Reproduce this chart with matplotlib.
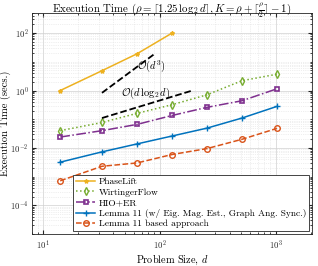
import numpy as np
import matplotlib.pyplot as plt
import matplotlib.ticker as mticker

plt.rcParams['font.family'] = 'serif'
plt.rcParams['font.serif'] = ['cmr10', 'DejaVu Serif']
plt.rcParams['mathtext.fontset'] = 'cm'
plt.rcParams['axes.formatter.use_mathtext'] = True

# problem sizes
d_small = [14, 32, 64, 128]
d_all = [14, 32, 64, 128, 256, 512, 1024]

t_phaselift = [1.0, 4.9, 19.0, 100.0]
t_wirtinger = [0.040, 0.077, 0.16, 0.32, 0.71, 2.2, 3.7]
t_hio = [0.024, 0.040, 0.066, 0.135, 0.26, 0.44, 1.15]
t_lemma_eig = [0.0032, 0.0073, 0.0138, 0.026, 0.049, 0.11, 0.28]
t_lemma = [0.00072, 0.0023, 0.0030, 0.0059, 0.0095, 0.020, 0.048]

# reference slopes
ref_d3 = [32, 90]
ref_dlog = [32, 190]

fig = plt.figure(figsize=(3.18, 2.66), dpi=100)
ax = fig.add_axes([0.1006, 0.120, 0.8804, 0.831])

ax.plot(d_small, t_phaselift, color='#EDB120', marker='*', ms=3, lw=1.1, label='PhaseLift')
ax.plot(d_all, t_wirtinger, color='#77AC30', marker='d', ms=4, mfc='none', mew=1.0, lw=1.1, ls=':', label='WirtingerFlow')
ax.plot(d_all, t_hio, color='#7E2F8E', marker='s', ms=3, mfc='none', mew=1.2, lw=1.1, ls='-.', label='HIO+ER')
ax.plot(d_all, t_lemma_eig, color='#0072BD', marker='+', ms=4, mew=1.0, lw=1.1, label='Lemma 11 (w/ Eig. Mag. Est., Graph Ang. Sync.)')
ax.plot(d_all, t_lemma, color='#D95319', marker='o', ms=4, mfc='none', mew=1.0, lw=1.1, ls='--', label='Lemma 11 based approach')

x3 = np.array(ref_d3, dtype=float)
ax.plot(x3, 0.83 * (x3 / 32.0) ** 3, 'k--', lw=1.3)
xl = np.array(ref_dlog, dtype=float)
ax.plot(xl, 0.11 * (xl * np.log2(xl)) / (32 * 5.0), 'k--', lw=1.3)

ax.text(64, 7.2, r'$\mathcal{O}(d^3)$', fontsize=7.5, ha='left', va='center')
ax.text(47, 0.77, r'$\mathcal{O}(d\,\log_2 d)$', fontsize=7.5, ha='left', va='center')

ax.set_xscale('log')
ax.set_yscale('log')
ax.set_xlim(8, 2048)
ax.set_ylim(1e-5, 500)
ax.yaxis.set_major_locator(mticker.FixedLocator([1e-4, 1e-2, 1e0, 1e2]))
ax.yaxis.set_minor_locator(mticker.LogLocator(base=10, subs=np.arange(1, 10), numticks=20))
ax.yaxis.set_minor_formatter(mticker.NullFormatter())
ax.xaxis.set_minor_formatter(mticker.NullFormatter())

ax.grid(True, which='major', color='#d0d0d0', lw=0.5)
ax.grid(True, which='minor', color='#e0e0e0', lw=0.5, ls=':')
ax.set_axisbelow(True)
ax.tick_params(which='both', direction='in', top=True, right=True, labelsize=6.3, colors='#262626')
ax.tick_params(which='major', length=3)
ax.tick_params(which='minor', length=1.5)
ax.tick_params(axis='y', pad=2.5)
for lab in ax.get_xticklabels() + ax.get_yticklabels():
    lab.set_math_fontfamily('dejavusans')
for sp in ax.spines.values():
    sp.set_color('#262626')
    sp.set_linewidth(0.6)

ax.set_xlabel(r'Problem Size, $d$', fontsize=7.4, labelpad=0.5)
ax.set_ylabel('Execution Time (secs.)', fontsize=7.6)
ax.yaxis.set_label_coords(-0.074, 0.5)
fig.text(0.5406, 0.997,
         r'Execution Time ($\rho = \lceil 1.25\,\log_2 d\rceil, K = \rho + \lceil \frac{\rho}{2} \rceil - 1$)',
         fontsize=7.8, ha='center', va='top')

leg = ax.legend(loc='lower right', fontsize=6.8, handlelength=2, handletextpad=0.4,
                borderpad=0.3, labelspacing=0.2, borderaxespad=0.3, fancybox=False,
                edgecolor='#262626', framealpha=1)
leg.get_frame().set_linewidth(0.6)

fig.savefig('out.png', dpi=100)
